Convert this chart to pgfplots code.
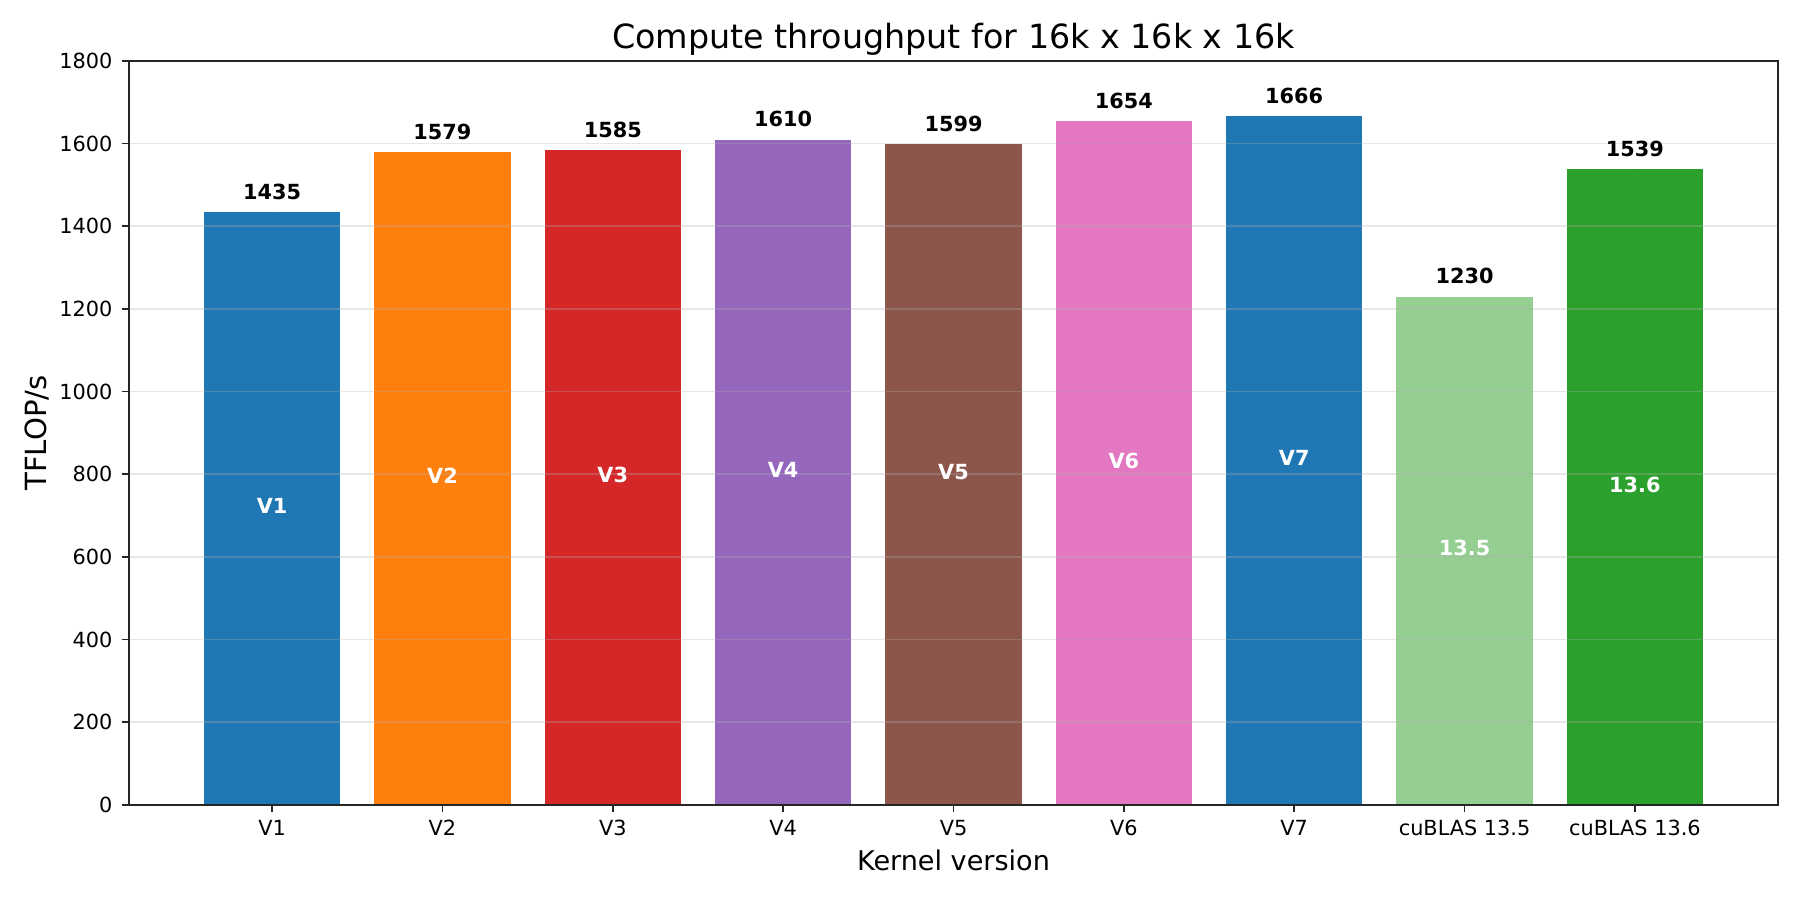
\documentclass[border=0pt]{standalone}
\usepackage{fontspec}
\setmainfont{DejaVu Sans}
\usepackage{pgfplots}
\pgfplotsset{compat=1.18}
\usepackage{pgfplotstable}
\usetikzlibrary{calc}

\definecolor{cA}{HTML}{1F77B4}
\definecolor{cB}{HTML}{FF7F0E}
\definecolor{cC}{HTML}{D62728}
\definecolor{cD}{HTML}{9467BD}
\definecolor{cE}{HTML}{8C564B}
\definecolor{cF}{HTML}{E377C2}
\definecolor{cG}{HTML}{94CE91}
\definecolor{cH}{HTML}{2CA02C}
\definecolor{gridc}{HTML}{B0B0B0}
\definecolor{spine}{HTML}{262626}

\pgfplotstableread{
x y mid lab name
0 1435 717.5 1435 V1
1 1579 789.5 1579 V2
2 1585 792.5 1585 V3
3 1610 805 1610 V4
4 1599 799.5 1599 V5
5 1654 827 1654 V6
6 1666 833 1666 V7
7 1230 615 1230 13.5
8 1539 769.5 1539 13.6
}\datatable

\begin{document}
\begin{tikzpicture}
\begin{axis}[
  scale only axis,
  width=791.52bp, height=357.12bp,
  xmin=-0.84, xmax=8.84, ymin=0, ymax=1800,
  xtick={0,1,2,3,4,5,6,7,8},
  xticklabels={V1,V2,V3,V4,V5,V6,V7,cuBLAS 13.5,cuBLAS 13.6},
  ytick={0,200,400,600,800,1000,1200,1400,1600,1800},
  /pgf/number format/1000 sep={},
  /pgf/number format/assume math mode=true,
  tick align=outside,
  tick pos=left,
  major tick length=3.5bp,
  tick style={line width=0.8bp, color=spine},
  axis line style={line width=0.8bp, color=spine},
  ymajorgrids,
  grid style={line width=0.8bp, color=gridc, opacity=0.3},
  axis on top,
  ticklabel style={font=\fontsize{10bp}{12bp}\selectfont},
  xticklabel style={anchor=base, inner sep=0pt, yshift=-10.9bp},
  yticklabel style={anchor=east, inner sep=0pt, xshift=-4.3bp},
]
\addplot[ybar, bar width=0.8, bar shift=0pt, fill=cA, draw=none] coordinates {(0,1435)};
\addplot[ybar, bar width=0.8, bar shift=0pt, fill=cB, draw=none] coordinates {(1,1579)};
\addplot[ybar, bar width=0.8, bar shift=0pt, fill=cC, draw=none] coordinates {(2,1585)};
\addplot[ybar, bar width=0.8, bar shift=0pt, fill=cD, draw=none] coordinates {(3,1610)};
\addplot[ybar, bar width=0.8, bar shift=0pt, fill=cE, draw=none] coordinates {(4,1599)};
\addplot[ybar, bar width=0.8, bar shift=0pt, fill=cF, draw=none] coordinates {(5,1654)};
\addplot[ybar, bar width=0.8, bar shift=0pt, fill=cA, draw=none] coordinates {(6,1666)};
\addplot[ybar, bar width=0.8, bar shift=0pt, fill=cG, draw=none] coordinates {(7,1230)};
\addplot[ybar, bar width=0.8, bar shift=0pt, fill=cH, draw=none] coordinates {(8,1539)};
% value labels above bars
\addplot[only marks, mark=*, mark size=0pt, mark options={draw=none, fill=none},
  nodes near coords, point meta=explicit symbolic,
  nodes near coords style={anchor=base, yshift=6.1bp, inner sep=0pt,
    font=\fontsize{10bp}{12bp}\selectfont\bfseries, text=black}]
  table[x=x, y=y, meta=lab] {\datatable};
% names inside bars
\addplot[only marks, mark=*, mark size=0pt, mark options={draw=none, fill=none},
  nodes near coords, point meta=explicit symbolic,
  nodes near coords style={anchor=center, yshift=1.2bp, inner sep=0pt,
    font=\fontsize{10bp}{12bp}\selectfont\bfseries, text=white}]
  table[x=x, y=mid, meta=name] {\datatable};
\end{axis}
\node[anchor=base, inner sep=0pt, font=\fontsize{16bp}{19bp}\selectfont]
  at ($(current axis.north)+(0,6.1bp)$) {Compute throughput for 16k x 16k x 16k};
\node[anchor=base, inner sep=0pt, font=\fontsize{13bp}{16bp}\selectfont]
  at ($(current axis.south)+(0,-31.4bp)$) {Kernel version};
\node[anchor=base, rotate=90, inner sep=0pt, font=\fontsize{14bp}{17bp}\selectfont]
  at ($(current axis.west)+(-39.5bp,0)$) {TFLOP/s};
\path[use as bounding box] ($(current axis.south west)+(-61.92bp,-45.6bp)$) rectangle ($(current axis.north east)+(10.56bp,29.28bp)$);
\end{tikzpicture}
\end{document}
